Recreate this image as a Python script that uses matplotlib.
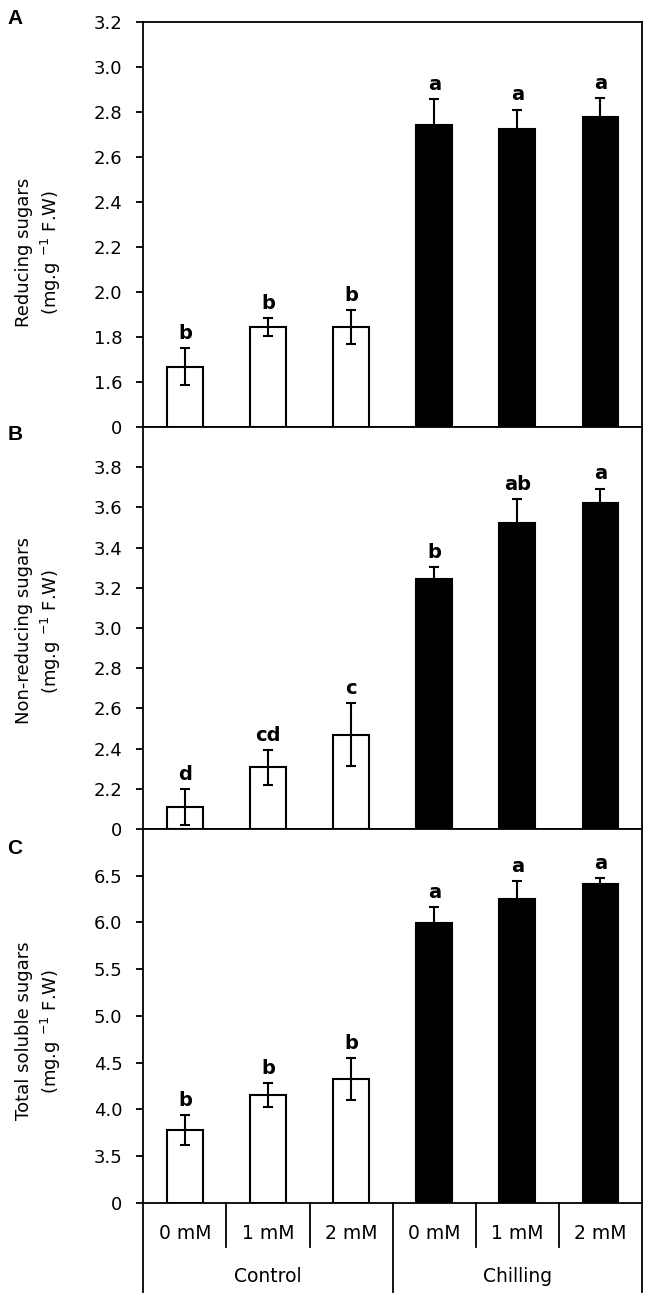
import matplotlib
matplotlib.use("Agg")
import matplotlib.pyplot as plt
import numpy as np

plt.rcParams['font.family'] = ['DejaVu Sans']
plt.rcParams['mathtext.fontset'] = 'dejavusans'

# ---- data ----
doses = ['0 mM', '1 mM', '2 mM', '0 mM', '1 mM', '2 mM']
groups = ['Control', 'Chilling']
bar_colors = ['white', 'white', 'white', 'black', 'black', 'black']

reducing = [1.667, 1.844, 1.844, 2.740, 2.726, 2.778]
reducing_err = [0.082, 0.040, 0.076, 0.118, 0.085, 0.083]
reducing_letters = ['b', 'b', 'b', 'a', 'a', 'a']

nonreducing = [2.108, 2.306, 2.470, 3.244, 3.522, 3.621]
nonreducing_err = [0.090, 0.085, 0.155, 0.058, 0.120, 0.073]
nonreducing_letters = ['d', 'cd', 'c', 'b', 'ab', 'a']

total = [3.778, 4.153, 4.320, 5.997, 6.250, 6.410]
total_err = [0.160, 0.125, 0.225, 0.170, 0.190, 0.070]
total_letters = ['b', 'b', 'b', 'a', 'a', 'a']

ylabels = ['Reducing sugars\n(mg.g $^{-1}$ F.W)',
           'Non-reducing sugars\n(mg.g $^{-1}$ F.W)',
           'Total soluble sugars\n(mg.g $^{-1}$ F.W)']
panel_tags = ['A', 'B', 'C']

# broken axis: the "0" label is drawn at the floor value
floors = [1.4, 2.0, 3.0]
tops = [3.2, 4.0, 7.0]
tick_values = [np.round(np.arange(1.6, 3.21, 0.2), 1),
               np.round(np.arange(2.2, 3.81, 0.2), 1),
               np.round(np.arange(3.5, 6.51, 0.5), 1)]

W, H = 650, 1295
fig = plt.figure(figsize=(W / 100, H / 100), dpi=100)

left, right = 143.3 / W, 642 / W
bounds_px = [(22, 427), (427, 829), (829, 1202.7)]
tag_y = [18, 435, 848]
label_y = [252, 631, 1031]

series = [(reducing, reducing_err, reducing_letters),
          (nonreducing, nonreducing_err, nonreducing_letters),
          (total, total_err, total_letters)]

x = np.arange(len(doses))
axes = []
for i, ((top_px, bot_px), (vals, errs, lets)) in enumerate(zip(bounds_px, series)):
    ax = fig.add_axes([left, 1 - bot_px / H, right - left, (bot_px - top_px) / H])
    axes.append(ax)
    fl = floors[i]
    heights = [v - fl for v in vals]
    ax.bar(x, heights, bottom=fl, width=0.43, color=bar_colors,
           edgecolor='black', linewidth=1.5, zorder=2)
    ax.errorbar(x, vals, yerr=errs, fmt='none', ecolor='black',
                elinewidth=1.5, capsize=3.8, capthick=1.5, zorder=3)
    for xi, v, e, l in zip(x, vals, errs, lets):
        ax.annotate(l, (xi, v + e), xytext=(0, 6.5), textcoords='offset points',
                    ha='center', va='baseline', fontsize=14, fontweight='bold')
    ax.set_xlim(-0.5, len(doses) - 0.5)
    ax.set_ylim(fl, tops[i])
    ticks = [fl] + list(tick_values[i])
    labels = ['0'] + ['%.1f' % t for t in tick_values[i]]
    ax.set_yticks(ticks)
    ax.set_yticklabels(labels, fontsize=13)
    ax.tick_params(axis='y', direction='out', length=5, width=1.3, pad=10)
    ax.tick_params(axis='x', bottom=False, labelbottom=False)
    for s in ax.spines.values():
        s.set_linewidth(1.3)
    fig.text(39 / W, 1 - label_y[i] / H, ylabels[i], rotation=90, ha='center',
             va='center', fontsize=13, linespacing=1.3, multialignment='center')
    fig.text(15 / W, 1 - tag_y[i] / H, panel_tags[i], fontsize=15,
             fontweight='bold', family=['Liberation Sans', 'DejaVu Sans'],
             ha='center', va='center')

# category axis below the last panel
axc = axes[-1]
trans = axc.get_xaxis_transform()
hC = bounds_px[2][1] - bounds_px[2][0]
short_y = -44.6 / hC
long_y = -89.0 / hC
for k in range(len(doses) + 1):
    xb = k - 0.5
    yb = long_y if k % 3 == 0 else short_y
    axc.plot([xb, xb], [0, yb], color='black', lw=1.3, transform=trans,
             clip_on=False)
for xi, d in zip(x, doses):
    axc.text(xi, -30.6 / hC, d, transform=trans, ha='center', va='center',
             fontsize=13.5)
for g, grp in enumerate(groups):
    axc.text(3 * g + 1, -74 / hC, grp, transform=trans, ha='center',
             va='center', fontsize=13.5)

fig.savefig('out.png', dpi=100)
